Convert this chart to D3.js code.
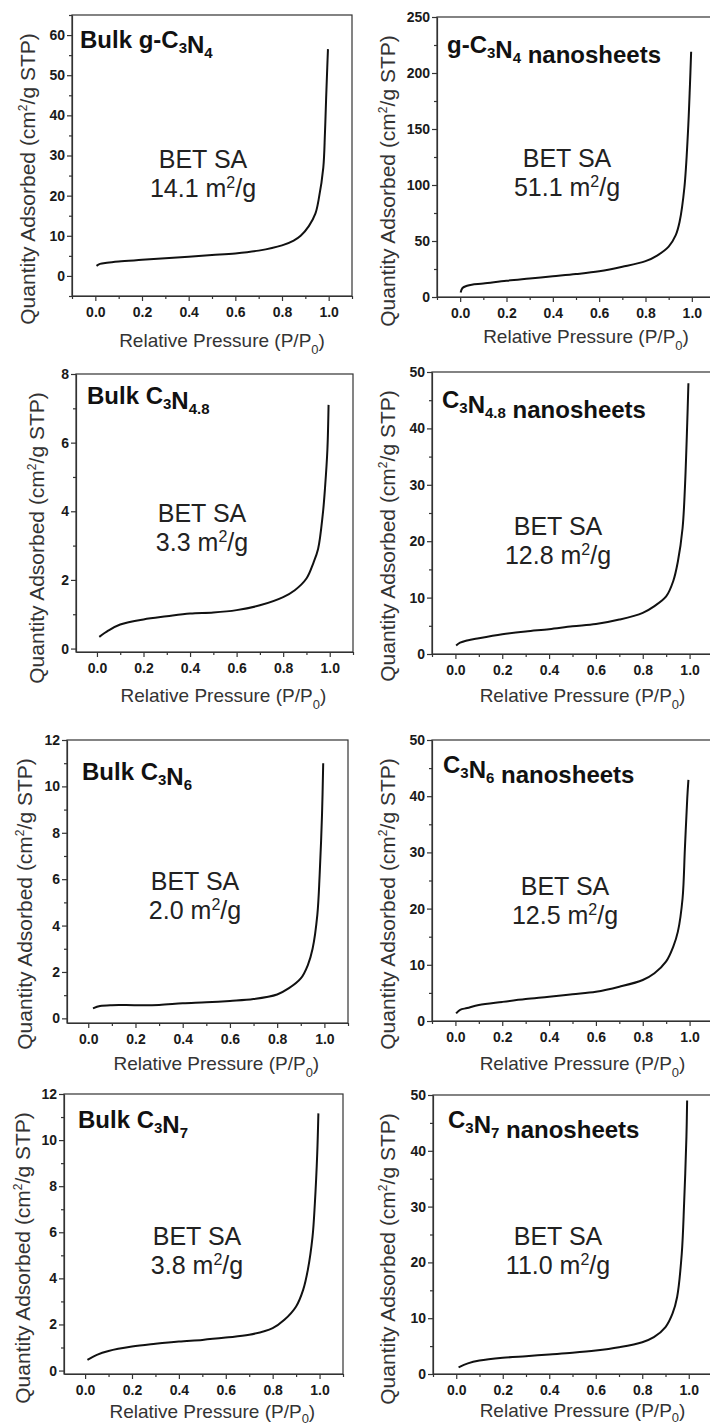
<html>
<head>
<script src="https://d3js.org/d3.v7.min.js"></script>
<style>
body { margin: 0; background: #fff; font-family: "Liberation Sans", Arial, sans-serif; }
.tick text { font-family: "Liberation Sans", Arial, sans-serif; font-weight: bold; font-size: 14px; fill: #1a1a1a; }
.tick line, .domain { stroke: #333; stroke-width: 1.2; }
</style>
</head>
<body>
<svg id="fig" width="710" height="1427"></svg>
<script>
// sample names, {..} marks a subscript
var titles = ["Bulk g-C{3}N{4}", "g-C{3}N{4} nanosheets",
              "Bulk C{3}N{4.8}", "C{3}N{4.8} nanosheets",
              "Bulk C{3}N{6}", "C{3}N{6} nanosheets",
              "Bulk C{3}N{7}", "C{3}N{7} nanosheets"];
var betValues = ["14.1", "51.1", "3.3", "12.8", "2.0", "12.5", "3.8", "11.0"];

// isotherms (P/P0 , cm3/g STP)
var p1 = [0.005,0.02,0.05,0.1,0.2,0.3,0.4,0.5,0.6,0.7,0.8,0.85,0.88,0.915,0.943,0.957,0.977,0.984,0.989,0.994,0.997];
var q1 = [2.5,3.0,3.3,3.6,4.0,4.4,4.8,5.2,5.6,6.3,7.6,8.8,10,12.4,15.5,19,27,35.5,44,52,56.5];
var p2 = [0.002,0.01,0.03,0.05,0.1,0.2,0.3,0.4,0.5,0.6,0.7,0.8,0.85,0.9,0.93,0.947,0.968,0.983,0.992,0.997];
var q2 = [4,8,10,11,12,14.5,16.5,18.5,20.5,23,27,32,37,45,55,67,98,146,190,219];
var p3 = [0.01,0.05,0.1,0.2,0.3,0.4,0.5,0.6,0.7,0.8,0.85,0.9,0.93,0.95,0.97,0.98,0.99,0.995];
var q3 = [0.34,0.53,0.70,0.85,0.94,1.02,1.05,1.12,1.26,1.5,1.7,2.04,2.5,2.9,3.9,4.7,5.8,7.1];
var p4 = [0.003,0.02,0.05,0.1,0.2,0.3,0.4,0.5,0.6,0.7,0.8,0.85,0.9,0.93,0.95,0.97,0.98,0.99,0.995];
var q4 = [1.5,2.0,2.4,2.8,3.5,4.0,4.4,4.9,5.3,6.1,7.3,8.5,10.2,12.9,16.4,22.3,29.4,41,48];
var p5 = [0.02,0.05,0.1,0.2,0.3,0.4,0.5,0.6,0.7,0.8,0.85,0.9,0.93,0.95,0.97,0.98,0.99,0.995];
var q5 = [0.43,0.53,0.57,0.57,0.58,0.65,0.69,0.75,0.83,1.03,1.3,1.72,2.3,3.0,4.45,6.2,8.8,11.0];
var p6 = [0.003,0.02,0.05,0.1,0.2,0.3,0.4,0.5,0.6,0.7,0.8,0.85,0.9,0.93,0.95,0.97,0.98,0.99,0.995];
var q6 = [1.36,2.0,2.3,2.85,3.4,3.9,4.3,4.75,5.2,6.1,7.3,8.5,10.6,13.2,15.9,21.8,30.7,39.6,42.9];
var p7 = [0.01,0.05,0.1,0.2,0.3,0.4,0.5,0.6,0.7,0.8,0.85,0.9,0.93,0.95,0.97,0.98,0.99,0.995];
var q7 = [0.46,0.68,0.85,1.04,1.16,1.26,1.33,1.43,1.55,1.84,2.2,2.78,3.5,4.37,5.8,7.26,9.4,11.16];
var p8 = [0.01,0.05,0.1,0.2,0.3,0.4,0.5,0.6,0.7,0.8,0.85,0.9,0.93,0.95,0.97,0.98,0.99,0.993];
var q8 = [1.2,1.9,2.4,2.9,3.2,3.5,3.8,4.2,4.8,5.7,6.6,8.4,10.8,13.8,21.6,30.5,42.5,49];
var pressures = [p1, p2, p3, p4, p5, p6, p7, p8];
var quantities = [q1, q2, q3, q4, q5, q6, q7, q8];

// axis ranges and tick labels
var xDomains = [[-0.1,1.1],[-0.1,1.1],[-0.09,1.1],[-0.1,1.1],[-0.09,1.1],[-0.1,1.1],[-0.09,1.1],[-0.1,1.1]];
var yDomains = [[-5,65],[0,250],[-0.1,8],[0,50],[-0.2,12],[0,50],[-0.15,12],[0,50]];
var xTickLabels = [0.0, 0.2, 0.4, 0.6, 0.8, 1.0];
var yTickLabels = [[0,10,20,30,40,50,60],[0,50,100,150,200,250],[0,2,4,6,8],[0,10,20,30,40,50],
                   [0,2,4,6,8,10,12],[0,10,20,30,40,50],[0,2,4,6,8,10,12],[0,10,20,30,40,50]];

// frame boxes in pixels and text offsets
var layout = [
  {l:72,  r:352, t:15,   b:296,  tx:8,  ty:33, bx:131, by:153, yl:44, xl:51, sd:7},
  {l:437, r:715, t:17,   b:297,  tx:10, ty:36, bx:130, by:150, yl:49, xl:46, sd:7},
  {l:76,  r:353, t:374,  b:652,  tx:11, ty:30, bx:126, by:148, yl:39, xl:50, sd:7},
  {l:432, r:713, t:372,  b:654,  tx:10, ty:36, bx:126, by:163, yl:44, xl:48, sd:7},
  {l:67,  r:348, t:740,  b:1023, tx:15, ty:40, bx:128, by:150, yl:42, xl:47, sd:7},
  {l:432, r:713, t:740,  b:1021, tx:11, ty:33, bx:133, by:155, yl:44, xl:49, sd:7},
  {l:64,  r:343, t:1094, b:1374, tx:14, ty:34, bx:133, by:151, yl:41, xl:44, sd:5},
  {l:433, r:712, t:1095, b:1374, tx:15, ty:33, bx:125, by:150, yl:45, xl:43, sd:5}
];

var svg = d3.select("#fig");

function addRich(sel, str, subSize, shift) {
  // split "C{3}N{4}" into plain and subscript pieces
  var parts = str.split(/(\{[^}]*\})/).filter(function(s){ return s.length; });
  parts.forEach(function(s) {
    if (s[0] == "{") {
      sel.append("tspan").attr("font-size", subSize).attr("dy", shift).text(s.slice(1, -1));
      sel.append("tspan").attr("dy", -shift).text("");
    } else {
      sel.append("tspan").text(s);
    }
  });
}

for (var i = 0; i < 8; i++) {
  var L = layout[i];
  var x = d3.scaleLinear().domain(xDomains[i]).range([L.l, L.r]);
  var y = d3.scaleLinear().domain(yDomains[i]).range([L.b, L.t]);
  var g = svg.append("g");

  // minor ticks
  var majY = yTickLabels[i];
  var stepY = majY[1] - majY[0];
  var minY = [];
  for (var k = -1; k < majY.length; k++) {
    var v = majY[0] + (k + 0.5) * stepY;
    if (v >= yDomains[i][0] && v <= yDomains[i][1]) minY.push(v);
  }
  var minX = [-0.1, 0.1, 0.3, 0.5, 0.7, 0.9, 1.1].filter(function(v){ return v >= xDomains[i][0] - 1e-9 && v <= xDomains[i][1] + 1e-9; });

  g.append("g").attr("transform", "translate(" + L.l + ",0)")
    .call(d3.axisLeft(y).tickValues(minY).tickSize(3).tickFormat(""))
    .select(".domain").remove();
  g.append("g").attr("transform", "translate(0," + L.b + ")")
    .call(d3.axisBottom(x).tickValues(minX).tickSize(3).tickFormat(""))
    .select(".domain").remove();

  g.append("g").attr("transform", "translate(" + L.l + ",0)")
    .call(d3.axisLeft(y).tickValues(majY).tickSize(5).tickSizeOuter(0).tickPadding(2).tickFormat(d3.format("d")));
  g.append("g").attr("transform", "translate(0," + L.b + ")")
    .call(d3.axisBottom(x).tickValues(xTickLabels).tickSize(5).tickSizeOuter(0).tickPadding(6).tickFormat(d3.format(".1f")));

  // frame
  g.append("rect").attr("x", L.l).attr("y", L.t).attr("width", L.r - L.l).attr("height", L.b - L.t)
    .attr("fill", "none").attr("stroke", "#333").attr("stroke-width", 1.2);

  // isotherm
  var pts = pressures[i].map(function(p, j){ return [p, quantities[i][j]]; });
  g.append("path").datum(pts)
    .attr("fill", "none").attr("stroke", "#111").attr("stroke-width", 2)
    .attr("d", d3.line().x(function(d){ return x(d[0]); }).y(function(d){ return y(d[1]); }).curve(d3.curveCatmullRom.alpha(0.5)));

  // title
  var t = g.append("text").attr("x", L.l + L.tx).attr("y", L.t + L.ty)
    .attr("font-size", 24).attr("font-weight", "bold").attr("fill", "#111");
  addRich(t, titles[i], 15, 5);

  // BET label
  g.append("text").attr("x", L.l + L.bx).attr("y", L.t + L.by).attr("text-anchor", "middle")
    .attr("font-size", 25).attr("fill", "#222").text("BET SA");
  var b = g.append("text").attr("x", L.l + L.bx).attr("y", L.t + L.by + 29).attr("text-anchor", "middle")
    .attr("font-size", 25).attr("fill", "#222");
  b.append("tspan").text(betValues[i] + " m");
  b.append("tspan").attr("font-size", 16).attr("dy", -9).text("2");
  b.append("tspan").attr("dy", 9).text("/g");

  // axis titles
  var yl = g.append("text").attr("text-anchor", "middle").attr("font-size", 21).attr("fill", "#333")
    .attr("transform", "translate(" + (L.l - L.yl + 7) + "," + (L.t + 164) + ") rotate(-90)");
  yl.append("tspan").text("Quantity Adsorbed (cm");
  yl.append("tspan").attr("font-size", 12).attr("dy", -8).text("2");
  yl.append("tspan").attr("dy", 8).text("/g STP)");

  var xl = g.append("text").attr("text-anchor", "middle").attr("font-size", 19).attr("fill", "#333")
    .attr("x", (x(0) + x(1)) / 2 + 10).attr("y", L.b + L.xl);
  xl.append("tspan").text("Relative Pressure (P/P");
  xl.append("tspan").attr("font-size", 13).attr("dy", L.sd).text("0");
  xl.append("tspan").attr("dy", -L.sd).text(")");
}
</script>
</body>
</html>
